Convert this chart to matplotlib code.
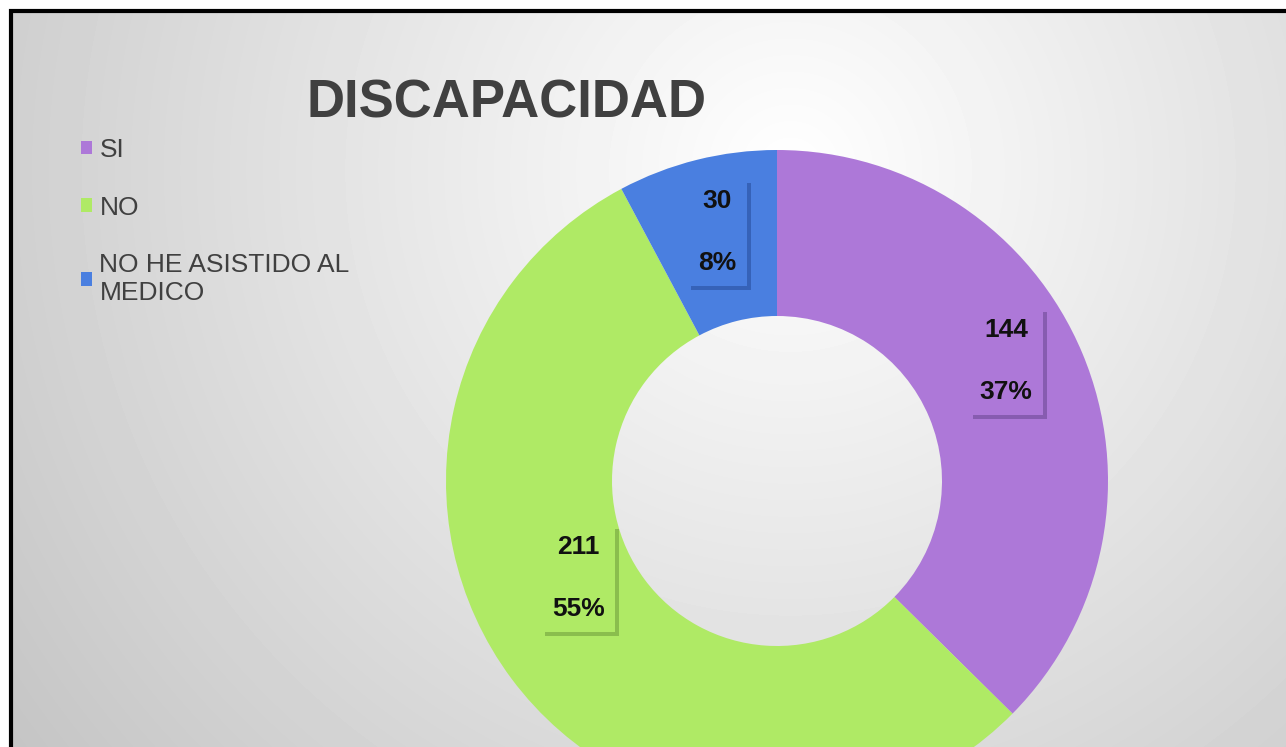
import numpy as np
import matplotlib.pyplot as plt
from matplotlib.patches import Rectangle
from matplotlib import patheffects as pe

plt.rcParams['font.family'] = ['Liberation Sans', 'DejaVu Sans']

# data
categorias = ['SI', 'NO', 'NO HE ASISTIDO AL\nMEDICO']
valores = [144, 211, 30]
porcentajes = [37, 55, 8]
colores = ['#ad78d8', '#afea65', '#4a7fe0']
sombras = ['#5a3a80', '#5f8a30', '#1f3f88']

W, H = 1286, 747
fig = plt.figure(figsize=(W / 100, H / 100), dpi=100)

# background with soft radial gradient + black frame
bg = fig.add_axes([0, 0, 1, 1])
xx, yy = np.meshgrid(np.arange(W), np.arange(H))
d = np.hypot(xx - 790, yy - 170)
img = np.clip(255 - 58 * d / 960, 190, 255)
bg.imshow(img, extent=(0, W, 0, H), cmap='gray', vmin=0, vmax=255,
          origin='upper', aspect='auto', zorder=0)
bg.set_xlim(0, W)
bg.set_ylim(0, H)
bg.axis('off')
bg.add_patch(Rectangle((0, 736), W, 20, fc='white', ec='none', zorder=1))
bg.add_patch(Rectangle((0, 0), 11, H, fc='white', ec='none', zorder=1))
bg.add_patch(Rectangle((11, -20), W + 40, 756, fill=False, ec='black', lw=3, zorder=2))

# donut
ax = fig.add_axes([0, 0, 1, 1], zorder=2)
ax.patch.set_alpha(0)
cx, cy, R, w = 777, 266, 331, 166
wedges, _ = ax.pie(valores, colors=colores, startangle=90, counterclock=False,
                   radius=R, center=(cx, cy),
                   wedgeprops=dict(width=w, edgecolor='none'))
ax.set_xlim(0, W)
ax.set_ylim(0, H)
ax.set_aspect('auto')
ax.axis('off')

nudges = [(0, 24), (0, 51), (0, 8)]
rm = R - w / 2
for wd, v, p, c, s, (nx, ny) in zip(wedges, valores, porcentajes, colores, sombras, nudges):
    t = np.deg2rad((wd.theta1 + wd.theta2) / 2)
    x = cx + rm * np.cos(t) + nx
    y = cy + rm * np.sin(t) + ny
    txt = ax.text(x, y, f'{v}\n{p}%', ha='center', va='center', fontsize=19,
                  fontweight='bold', color='#111111', linespacing=3.0,
                  bbox=dict(boxstyle='square,pad=0.4', fc=c, ec='none'))
    txt.get_bbox_patch().set_path_effects([
        pe.SimplePatchShadow(offset=(3, -3), shadow_rgbFace=s, alpha=0.45),
        pe.Normal()])

fig.text(506 / W, 1 - 103 / H, 'DISCAPACIDAD', ha='center', va='center',
         fontsize=38, fontweight='bold', color='#404040')

fig.legend(wedges, categorias, loc='upper left',
           bbox_to_anchor=(81 / W, 1 - 138 / H), frameon=False,
           fontsize=19, labelcolor='#404040', handlelength=0.4,
           handleheight=0.4, handletextpad=0.3, labelspacing=1.27,
           borderpad=0, borderaxespad=0)

fig.savefig('out.png', dpi=100)
